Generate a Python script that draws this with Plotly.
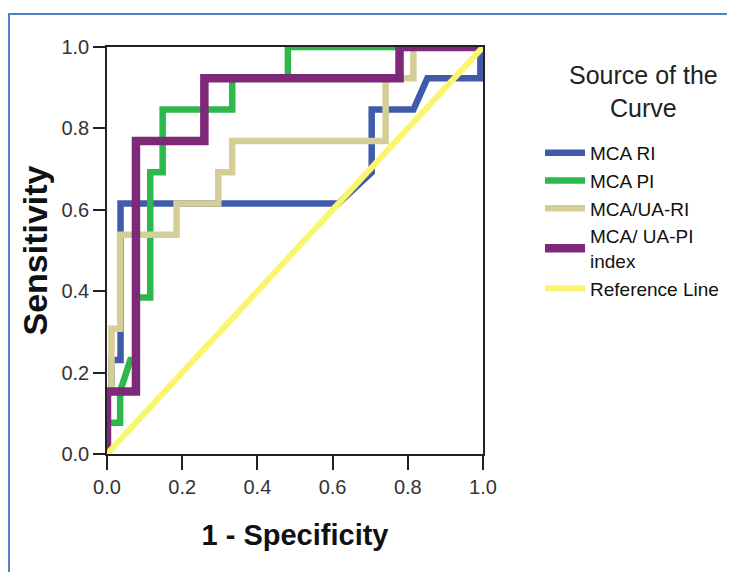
import plotly.graph_objects as go

# ---- data ----
series_names = ["MCA RI", "MCA PI", "MCA/UA-RI", "MCA/ UA-PI<br>index", "Reference Line"]

mca_ri_x = [0, 0, 0.012, 0.012, 0.036, 0.036, 0.615, 0.704, 0.704, 0.815, 0.852, 0.993, 0.993]
mca_ri_y = [0, 2/13, 2/13, 3/13, 3/13, 8/13, 8/13, 9/13, 11/13, 11/13, 12/13, 12/13, 1]

mca_pi_x = [0, 0, 0.012, 0.035, 0.035, 0.062, 0.077, 0.077, 0.115, 0.115, 0.148, 0.148, 0.333, 0.333, 0.481, 0.481, 1]
mca_pi_y = [0, 1/13, 1/13, 1/13, 2/13, 3/13, 3/13, 5/13, 5/13, 9/13, 9/13, 11/13, 11/13, 12/13, 12/13, 1, 1]

mca_ua_ri_x = [0, 0, 0.012, 0.012, 0.035, 0.035, 0.185, 0.185, 0.296, 0.296, 0.333, 0.333, 0.741, 0.741, 0.815, 0.815, 1]
mca_ua_ri_y = [0, 2/13, 2/13, 4/13, 4/13, 7/13, 7/13, 8/13, 8/13, 9/13, 9/13, 10/13, 10/13, 12/13, 12/13, 1, 1]

mca_ua_pi_x = [0, 0, 0.077, 0.077, 0.259, 0.259, 0.778, 0.778, 1]
mca_ua_pi_y = [0, 2/13, 2/13, 10/13, 10/13, 12/13, 12/13, 1, 1]

ref_x = [0, 1]
ref_y = [0, 1]

tick_vals = [0, 0.2, 0.4, 0.6, 0.8, 1.0]
tick_text = ["0.0", "0.2", "0.4", "0.6", "0.8", "1.0"]

colors = ["#3F5BAA", "#2DB84B", "#D5CF97", "#7D2878", "#FAF56E"]
widths = [6.5, 6.5, 6.5, 8.5, 6]

xs = [mca_ri_x, mca_pi_x, mca_ua_ri_x, mca_ua_pi_x, ref_x]
ys = [mca_ri_y, mca_pi_y, mca_ua_ri_y, mca_ua_pi_y, ref_y]

fig = go.Figure()
for name, x, y, c, w in zip(series_names, xs, ys, colors, widths):
    fig.add_trace(go.Scatter(x=x, y=y, mode="lines", name=name,
                             line=dict(color=c, width=w)))

FONT = "Liberation Sans, Arial, sans-serif"
OFF = 8  # default page body margin
W, H = 735, 572
ml, mr, mt, mb = 99, 260, 39, 126
pw = W - ml - mr
ph = H - mt - mb

def fx(page_px):   # page pixel -> paper x
    return (page_px - OFF - ml) / pw

def fy(page_py):   # page pixel -> paper y
    return (H - mb - (page_py - OFF)) / ph

axis_common = dict(
    range=[0, 1], tickvals=tick_vals, ticktext=tick_text,
    showgrid=False, zeroline=False,
    showline=True, linecolor="#222", linewidth=1.5, mirror=True,
    ticks="outside", tickcolor="#222", tickwidth=1.5,
    tickfont=dict(family=FONT, size=20, color="#333"),
    automargin=False,
)

fig.update_xaxes(**axis_common, ticklen=14,
                 title=dict(text="<b>1 - Specificity</b>", standoff=28,
                            font=dict(family=FONT, size=29, color="#111")))
fig.update_yaxes(**axis_common, ticklen=12,
                 title=dict(text="<b>Sensitivity</b>", standoff=4,
                            font=dict(family=FONT, size=34, color="#111")))

fig.add_shape(type="rect", xref="paper", yref="paper",
              x0=fx(9), x1=fx(800), y0=fy(650), y1=fy(14),
              line=dict(color="#4F81C7", width=2), fillcolor="rgba(0,0,0,0)",
              layer="below")

fig.add_annotation(text="Source of the<br>Curve", xref="paper", yref="paper",
                   x=fx(643), y=fy(91), xanchor="center", yanchor="middle",
                   align="center", showarrow=False,
                   font=dict(family=FONT, size=25, color="#222"))

fig.update_layout(
    width=W, height=H, autosize=False,
    margin=dict(l=ml, r=mr, t=mt, b=mb),
    paper_bgcolor="white", plot_bgcolor="white",
    showlegend=True,
    legend=dict(
        xref="container", yref="container",
        x=(540 - OFF) / W, y=1 - (134 - OFF) / H, xanchor="left", yanchor="top",
        font=dict(family=FONT, size=19, color="#111"),
        itemwidth=40, tracegroupgap=0,
        bgcolor="rgba(0,0,0,0)",
    ),
)

fig.write_html("out.html")
